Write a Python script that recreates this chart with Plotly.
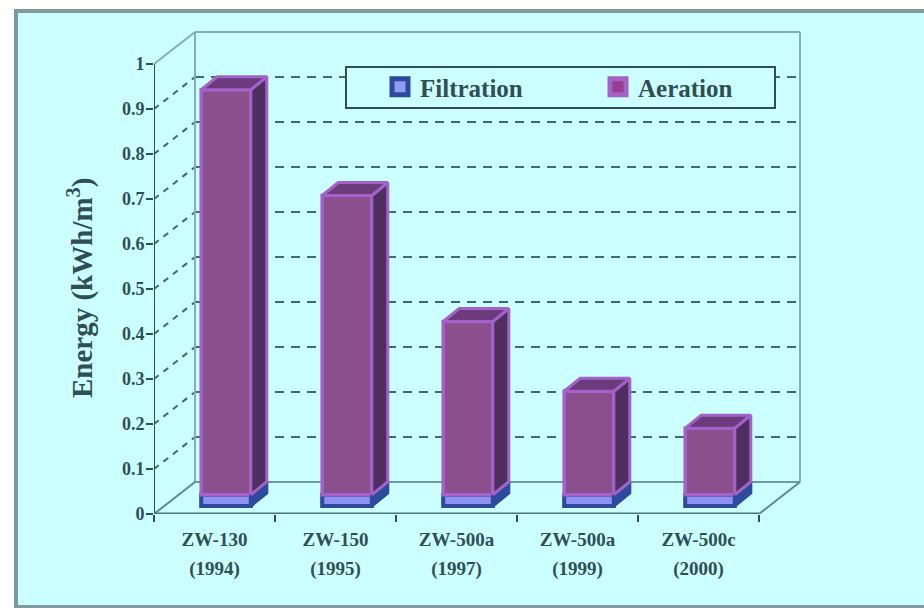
import plotly.graph_objects as go

# ---- data ----
models = ["ZW-130", "ZW-150", "ZW-500a", "ZW-500a", "ZW-500c"]
years = ["(1994)", "(1995)", "(1997)", "(1999)", "(2000)"]
filtration = [0.025, 0.025, 0.025, 0.025, 0.025]
aeration = [0.90, 0.665, 0.385, 0.23, 0.148]
y_ticks = [0, 0.1, 0.2, 0.3, 0.4, 0.5, 0.6, 0.7, 0.8, 0.9, 1]

# ---- geometry / style ----
W, H = 924, 608
PX_X, PX_Y = 121.0, 450.0          # px per category / per unit
X0, Y0 = 154, 514                  # pixel of the axes origin
WALL_DX, WALL_DY = 41 / PX_X, 32 / PX_Y
BAR_DX, BAR_DY = 16 / PX_X, 13 / PX_Y
BAR_SHIFT, BAR_BASE = 0.595, 8 / PX_Y
BAR_W = 0.41
INK = "#2f4f55"
WALL = "#7fb0bc"
SERIF = "Liberation Serif"
n = len(models)

fig = go.Figure()

# front faces through bar traces
xc = [i + BAR_SHIFT for i in range(n)]
tops_f = [BAR_BASE + f for f in filtration]
fig.add_trace(go.Bar(x=xc, y=filtration, base=[BAR_BASE] * n, width=BAR_W, showlegend=False,
                     marker=dict(color="#8f92f2", line=dict(color="#2d4a9c", width=4))))
fig.add_trace(go.Bar(x=xc, y=aeration, base=tops_f, width=BAR_W, showlegend=False,
                     marker=dict(color="#8a4f8c", line=dict(color="#a262c8", width=3.5))))


def poly(xs, ys, fill, line):
    fig.add_trace(go.Scatter(x=xs + xs[:1], y=ys + ys[:1], mode="lines", fill="toself", fillcolor=fill,
                             line=dict(color=line, width=3), showlegend=False, hoverinfo="skip"))


for i in range(n):
    l, r = xc[i] - BAR_W / 2, xc[i] + BAR_W / 2
    b, m = BAR_BASE, tops_f[i]
    t = m + aeration[i]
    poly([r, r + BAR_DX, r + BAR_DX, r], [b, b + BAR_DY, m + BAR_DY, m], "#2d4a9c", "#2d4a9c")
    poly([r, r + BAR_DX, r + BAR_DX, r], [m, m + BAR_DY, t + BAR_DY, t], "#4f2f60", "#a262c8")
    poly([l, r, r + BAR_DX, l + BAR_DX], [t, t, t + BAR_DY, t + BAR_DY], "#6b3b7c", "#a262c8")

# legend entries
fig.add_trace(go.Scatter(x=[None], y=[None], mode="markers", name="Filtration",
                         marker=dict(symbol="square", size=16, color="#8f9cf2",
                                     line=dict(color="#2d4a9c", width=5))))
fig.add_trace(go.Scatter(x=[None], y=[None], mode="markers", name="Aeration",
                         marker=dict(symbol="square", size=16, color="#993d8f",
                                     line=dict(color="#a262c8", width=5))))

shapes = []


def seg(x0, y0, x1, y1, color, width, dash="solid"):
    shapes.append(dict(type="line", xref="x", yref="y", x0=x0, y0=y0, x1=x1, y1=y1, layer="below",
                       line=dict(color=color, width=width, dash=dash)))


# panel background
shapes.append(dict(type="rect", xref="paper", yref="paper", x0=16 / W, x1=1.01, y0=1 - 607 / H, y1=1 - 11 / H,
                   layer="below", fillcolor="#ccffff", line=dict(color="#7f9a9e", width=4)))

# walls and dashed grid
for v in y_ticks[1:-1]:
    seg(0, v, WALL_DX, v + WALL_DY, "#3f6a6e", 2, "6px,6px")
    seg(WALL_DX, v + WALL_DY, n + WALL_DX, v + WALL_DY, "#3f6a6e", 2, "9px,7px")
seg(WALL_DX, WALL_DY, WALL_DX, 1 + WALL_DY, WALL, 2)
seg(n + WALL_DX, WALL_DY, n + WALL_DX, 1 + WALL_DY, WALL, 2)
seg(WALL_DX, 1 + WALL_DY, n + WALL_DX, 1 + WALL_DY, WALL, 2)
seg(0, 1, WALL_DX, 1 + WALL_DY, WALL, 2)
seg(WALL_DX, WALL_DY, n + WALL_DX, WALL_DY, "#6f9a9e", 2)
seg(0, 0, WALL_DX, WALL_DY, "#5f8a8e", 2)
seg(n, 0, n + WALL_DX, WALL_DY, "#5f8a8e", 2)
# axis lines
seg(0, 0, 0, 1, INK, 2)
seg(0, 0, n, 0, "#4f7478", 3)

# legend box
shapes.append(dict(type="rect", xref="paper", yref="paper", x0=346 / W, x1=775 / W, y0=1 - 108 / H, y1=1 - 67 / H,
                   layer="above", fillcolor="#ccffff", line=dict(color=INK, width=2)))

tick_text = [f"<span style='font-size:19px'>{m}<br>{y}</span>" for m, y in zip(models, years)]

fig.update_layout(
    width=W, height=H, margin=dict(l=0, r=0, t=0, b=0, autoexpand=False), autosize=False,
    paper_bgcolor="white", plot_bgcolor="rgba(0,0,0,0)", barmode="overlay",
    shapes=shapes, hovermode=False,
    legend=dict(orientation="h", x=380 / W, xanchor="left", y=1 - 64 / H, yanchor="top",
                bgcolor="rgba(0,0,0,0)", borderwidth=0, entrywidth=173, entrywidthmode="pixels",
                font=dict(family=SERIF, size=25, color=INK, weight="bold")),
    xaxis=dict(domain=[X0 / W, 810 / W], range=[0, (810 - X0) / PX_X], showgrid=False, zeroline=False,
               showline=False, tickmode="array", tickvals=[i + 0.5 for i in range(n)], ticktext=tick_text,
               ticks="", ticklabelstandoff=9,
               tickfont=dict(family=SERIF, size=22, color=INK, weight="bold"),
               minor=dict(tickmode="array", tickvals=list(range(n + 1)), ticks="outside", ticklen=7,
                          tickwidth=2, tickcolor=INK, showgrid=False)),
    yaxis=dict(domain=[1 - Y0 / H, 1 - 30 / H], range=[0, (Y0 - 30) / PX_Y], showgrid=False, zeroline=False,
               showline=False, tickmode="array", tickvals=y_ticks, ticktext=[str(v) for v in y_ticks],
               ticks="outside", ticklen=7, tickwidth=2, tickcolor=INK, ticklabelstandoff=-2,
               tickfont=dict(family=SERIF, size=18, color=INK, weight="bold")),
    annotations=[dict(text="Energy (kWh/m<sup>3</sup>)", xref="paper", yref="paper", x=81 / W, y=1 - 288 / H,
                      showarrow=False, textangle=-90, xanchor="center", yanchor="middle",
                      font=dict(family=SERIF, size=29, color=INK, weight="bold"))],
)

fig.write_html("out.html", config={"displayModeBar": False},
               post_script="document.body.style.margin='0';")
